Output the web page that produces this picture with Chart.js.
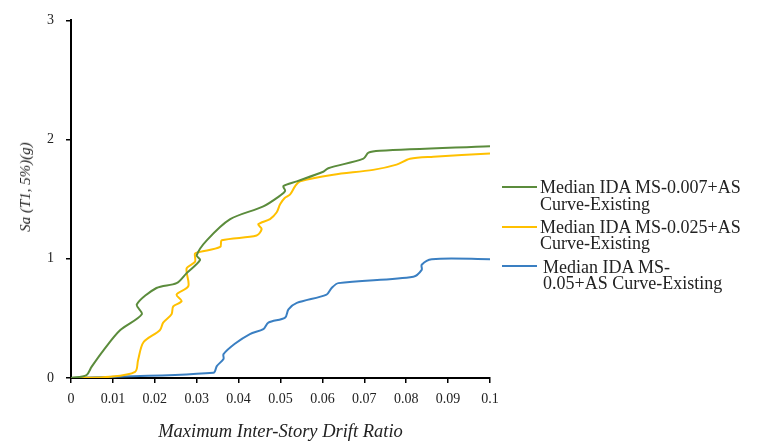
<!DOCTYPE html>
<html>
<head>
<meta charset="utf-8">
<script src="https://cdn.jsdelivr.net/npm/chart.js@4/dist/chart.umd.min.js"></script>
<style>
  html, body { margin: 0; padding: 0; background: #fff; }
  #wrap { position: relative; width: 757px; height: 442px; }
  #legend { position: absolute; left: 0; top: 0; font-family: "Liberation Serif", "Times New Roman", serif; font-size: 18px; line-height: 16.5px; color: #222; }
  .item { position: absolute; white-space: nowrap; }
  .swatch { position: absolute; height: 2px; width: 35px; }
  #ytitle { position: absolute; left: 25px; top: 187px; transform: translate(-50%, -50%) rotate(-90deg); white-space: nowrap;
            font-family: "Liberation Serif", "Times New Roman", serif; font-style: italic; font-size: 15px; color: #222; line-height: 18px; }
</style>
</head>
<body>
<div id="wrap">
  <canvas id="c" width="757" height="442"></canvas>
  <div id="legend"></div>
  <div id="ytitle"></div>
</div>
<script>
// ---- Data ----
const seriesNames = [
  ["Median IDA MS-0.007+AS", "Curve-Existing"],
  ["Median IDA MS-0.025+AS", "Curve-Existing"],
  ["Median IDA MS-", "0.05+AS Curve-Existing"]
];
const seriesColors = ["#5b8c3c", "#ffc000", "#3a7fc2"];

const greenX = [0, 0.0037, 0.0049, 0.0077, 0.0117, 0.0169, 0.0157, 0.0204, 0.0252, 0.0276, 0.0308, 0.0300, 0.0324, 0.0380, 0.0459, 0.0499, 0.0511, 0.0507, 0.0539, 0.0602, 0.0614, 0.0698, 0.0710, 0.0737, 0.1];
const greenY = [0, 0.025, 0.093, 0.23, 0.40, 0.535, 0.617, 0.755, 0.796, 0.88, 0.99, 1.03, 1.155, 1.333, 1.44, 1.53, 1.57, 1.61, 1.65, 1.73, 1.76, 1.84, 1.89, 1.906, 1.945];

const yellowX = [0, 0.0093, 0.0153, 0.0160, 0.0173, 0.0212, 0.0220, 0.0240, 0.0244, 0.0264, 0.0252, 0.0280, 0.0276, 0.0296, 0.0296, 0.0308, 0.0356, 0.0360, 0.0443, 0.0455, 0.0447, 0.0475, 0.0491, 0.0499, 0.0510, 0.0523, 0.0535, 0.0547, 0.0626, 0.0721, 0.0777, 0.0809, 0.0865, 0.1];
const yellowY = [0, 0.011, 0.052, 0.149, 0.30, 0.40, 0.465, 0.535, 0.60, 0.645, 0.70, 0.77, 0.92, 0.975, 1.045, 1.058, 1.10, 1.155, 1.195, 1.25, 1.29, 1.333, 1.39, 1.457, 1.51, 1.54, 1.61, 1.65, 1.705, 1.746, 1.79, 1.84, 1.857, 1.884];

const blueX = [0, 0.0340, 0.0348, 0.0364, 0.0364, 0.0391, 0.0427, 0.0459, 0.0471, 0.0511, 0.0519, 0.0539, 0.0610, 0.0622, 0.0638, 0.0817, 0.0837, 0.0837, 0.0861, 0.1];
const blueY = [0, 0.044, 0.10, 0.16, 0.20, 0.287, 0.369, 0.41, 0.465, 0.507, 0.576, 0.63, 0.70, 0.755, 0.796, 0.85, 0.907, 0.95, 0.997, 0.997];

const xTicks = [0, 0.01, 0.02, 0.03, 0.04, 0.05, 0.06, 0.07, 0.08, 0.09, 0.1];
const xTickLabels = ["0", "0.01", "0.02", "0.03", "0.04", "0.05", "0.06", "0.07", "0.08", "0.09", "0.1"];
const yTicks = [0, 1, 2, 3];
const yTickLabels = ["0", "1", "2", "3"];
const xTitle = "Maximum Inter-Story Drift Ratio";
const yTitle = "Sa (T1, 5%)(g)";

// ---- Build chart ----
function pts(xs, ys) { return xs.map((x, i) => ({ x: x, y: ys[i] })); }
const allX = [greenX, yellowX, blueX];
const allY = [greenY, yellowY, blueY];

const datasets = allX.map((xs, i) => ({
  label: seriesNames[i].join(" "),
  data: pts(xs, allY[i]),
  borderColor: seriesColors[i],
  backgroundColor: seriesColors[i],
  borderWidth: 2,
  pointRadius: 0,
  tension: 0.3,
  fill: false
}));

const serif = "'Liberation Serif', 'Times New Roman', serif";

new Chart(document.getElementById('c'), {
  type: 'line',
  data: { datasets: datasets },
  options: {
    responsive: false,
    animation: false,
    layout: { padding: { top: 15, right: 267, left: 0, bottom: 0 } },
    plugins: { legend: { display: false }, tooltip: { enabled: false } },
    scales: {
      x: {
        type: 'linear', min: 0, max: 0.1,
        afterBuildTicks: (s) => { s.ticks = xTicks.map(v => ({ value: v })); },
        afterFit: (s) => { s.height = 64; },
        ticks: {
          callback: (v) => { const i = xTicks.findIndex(t => Math.abs(t - v) < 1e-9); return i >= 0 ? xTickLabels[i] : ''; },
          font: { family: serif, size: 14 }, color: '#222', padding: 8, maxRotation: 0, autoSkip: false
        },
        grid: { drawOnChartArea: false, drawTicks: true, tickLength: 5, color: '#000', lineWidth: 1.5 },
        border: { display: true, color: '#000', width: 2 },
        title: { display: true, text: xTitle, font: { family: serif, size: 18.5, style: 'italic', lineHeight: 1.1 }, color: '#222', padding: { top: 4, bottom: 0 } }
      },
      y: {
        type: 'linear', min: 0, max: 3,
        afterBuildTicks: (s) => { s.ticks = yTicks.map(v => ({ value: v })); },
        afterFit: (s) => { s.width = 71; },
        ticks: {
          callback: (v) => { const i = yTicks.indexOf(v); return i >= 0 ? yTickLabels[i] : ''; },
          font: { family: serif, size: 14 }, color: '#222', padding: 12
        },
        grid: { drawOnChartArea: false, drawTicks: true, tickLength: 5, color: '#000', lineWidth: 1.5 },
        border: { display: true, color: '#000', width: 2 },
        title: { display: false }
      }
    }
  }
});

document.getElementById('ytitle').textContent = yTitle;

// ---- HTML legend ----
const legend = document.getElementById('legend');
const legendRows = [ { line: 187, text: 179, tx: 540 }, { line: 227, text: 218.5, tx: 540 }, { line: 266, text: 258.5, tx: 543 } ];
seriesNames.forEach((lines, i) => {
  const sw = document.createElement('div');
  sw.className = 'swatch';
  sw.style.background = seriesColors[i];
  sw.style.left = '502px';
  sw.style.top = (legendRows[i].line - 1) + 'px';
  legend.appendChild(sw);
  const t = document.createElement('div');
  t.className = 'item';
  t.style.left = legendRows[i].tx + 'px';
  t.style.top = legendRows[i].text + 'px';
  t.innerHTML = lines.join('<br>');
  legend.appendChild(t);
});
</script>
</body>
</html>
